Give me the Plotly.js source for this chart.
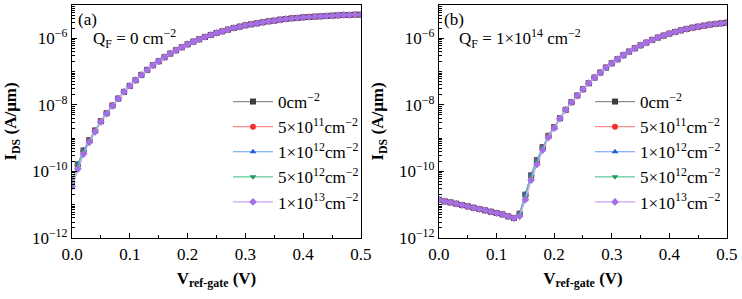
<!DOCTYPE html>
<html>
<head>
<meta charset="utf-8">
<script src="https://cdn.plot.ly/plotly-3.0.1.min.js"></script>
<style>
  html, body { margin: 0; padding: 0; background: #fff; overflow: hidden; }
  #chart { width: 742px; height: 299px; }
</style>
</head>
<body>
<div id="chart"></div>
<script>
// Gate sweep (V)
const vGate = [0.00,0.01,0.02,0.03,0.04,0.05,0.06,0.07,0.08,0.09,0.10,0.11,0.12,0.13,0.14,0.15,0.16,0.17,0.18,0.19,0.20,
  0.21,0.22,0.23,0.24,0.25,0.26,0.27,0.28,0.29,0.30,0.31,0.32,0.33,0.34,0.35,0.36,0.37,0.38,0.39,0.40,
  0.41,0.42,0.43,0.44,0.45,0.46,0.47,0.48,0.49,0.50];

// Legend labels (interface charge density)
const seriesNames = ['0cm<sup>−2</sup>', '5×10<sup>11</sup>cm<sup>−2</sup>', '1×10<sup>12</sup>cm<sup>−2</sup>',
  '5×10<sup>12</sup>cm<sup>−2</sup>', '1×10<sup>13</sup>cm<sup>−2</sup>'];

// (a) Q_F = 0 : log10 of I_DS (A/um)
const logIdsA_0 = [-10.29,-9.79,-9.37,-9.06,-8.77,-8.49,-8.25,-8.02,-7.81,-7.61,-7.43,-7.26,-7.10,-6.95,-6.81,-6.69,-6.57,-6.46,-6.36,-6.27,-6.18,
  -6.10,-6.03,-5.96,-5.90,-5.84,-5.79,-5.74,-5.69,-5.65,-5.61,-5.58,-5.55,-5.52,-5.49,-5.47,-5.44,-5.42,-5.40,-5.39,-5.37,
  -5.36,-5.35,-5.34,-5.33,-5.32,-5.31,-5.30,-5.30,-5.29,-5.29];
const logIdsA_5e11 = [-10.30,-9.80,-9.37,-9.06,-8.77,-8.49,-8.25,-8.02,-7.81,-7.61,-7.43,-7.26,-7.10,-6.95,-6.81,-6.69,-6.57,-6.46,-6.36,-6.27,-6.18,
  -6.10,-6.03,-5.96,-5.90,-5.84,-5.79,-5.74,-5.69,-5.65,-5.61,-5.58,-5.55,-5.52,-5.49,-5.47,-5.44,-5.42,-5.40,-5.39,-5.37,
  -5.36,-5.35,-5.34,-5.33,-5.32,-5.31,-5.30,-5.30,-5.29,-5.29];
const logIdsA_1e12 = [-10.28,-9.78,-9.36,-9.06,-8.77,-8.49,-8.25,-8.02,-7.81,-7.61,-7.43,-7.26,-7.10,-6.95,-6.81,-6.69,-6.57,-6.46,-6.36,-6.27,-6.18,
  -6.10,-6.03,-5.96,-5.90,-5.84,-5.79,-5.74,-5.69,-5.65,-5.61,-5.58,-5.55,-5.52,-5.49,-5.47,-5.44,-5.42,-5.40,-5.39,-5.37,
  -5.36,-5.35,-5.34,-5.33,-5.32,-5.31,-5.30,-5.30,-5.29,-5.29];
const logIdsA_5e12 = [-10.33,-9.83,-9.40,-9.08,-8.78,-8.49,-8.25,-8.02,-7.81,-7.61,-7.43,-7.26,-7.10,-6.95,-6.81,-6.69,-6.57,-6.46,-6.36,-6.27,-6.18,
  -6.10,-6.03,-5.96,-5.90,-5.84,-5.79,-5.74,-5.69,-5.65,-5.61,-5.58,-5.55,-5.52,-5.49,-5.47,-5.44,-5.42,-5.40,-5.39,-5.37,
  -5.36,-5.35,-5.34,-5.33,-5.32,-5.31,-5.30,-5.30,-5.29,-5.29];
const logIdsA_1e13 = [-10.45,-9.93,-9.48,-9.13,-8.81,-8.51,-8.26,-8.03,-7.81,-7.61,-7.43,-7.26,-7.10,-6.95,-6.81,-6.69,-6.57,-6.46,-6.36,-6.27,-6.18,
  -6.10,-6.03,-5.96,-5.90,-5.84,-5.79,-5.74,-5.69,-5.65,-5.61,-5.58,-5.55,-5.52,-5.49,-5.47,-5.44,-5.42,-5.40,-5.39,-5.37,
  -5.36,-5.35,-5.34,-5.33,-5.32,-5.31,-5.30,-5.30,-5.29,-5.29];

// (b) Q_F = 1e14 : log10 of I_DS (A/um)
const logIdsB_0 = [-10.85,-10.90,-10.93,-10.97,-11.01,-11.05,-11.09,-11.13,-11.17,-11.21,-11.25,-11.29,-11.35,-11.40,-11.27,-10.70,-10.12,-9.66,-9.27,-8.93,-8.67,
  -8.40,-8.15,-7.92,-7.72,-7.53,-7.35,-7.18,-7.03,-6.88,-6.75,-6.63,-6.51,-6.40,-6.30,-6.21,-6.13,-6.05,-5.98,-5.92,-5.86,
  -5.81,-5.76,-5.72,-5.68,-5.65,-5.62,-5.59,-5.57,-5.55,-5.53];
const logIdsB_5e11 = [-10.85,-10.90,-10.93,-10.97,-11.01,-11.05,-11.09,-11.13,-11.17,-11.21,-11.25,-11.29,-11.35,-11.40,-11.27,-10.70,-10.12,-9.66,-9.27,-8.93,-8.67,
  -8.40,-8.15,-7.92,-7.72,-7.53,-7.35,-7.18,-7.03,-6.88,-6.75,-6.63,-6.51,-6.40,-6.30,-6.21,-6.13,-6.05,-5.98,-5.92,-5.86,
  -5.81,-5.76,-5.72,-5.68,-5.65,-5.62,-5.59,-5.57,-5.55,-5.53];
const logIdsB_1e12 = [-10.85,-10.90,-10.93,-10.97,-11.01,-11.05,-11.09,-11.13,-11.17,-11.21,-11.25,-11.29,-11.35,-11.40,-11.26,-10.68,-10.10,-9.65,-9.27,-8.93,-8.67,
  -8.40,-8.15,-7.92,-7.72,-7.53,-7.35,-7.18,-7.03,-6.88,-6.75,-6.63,-6.51,-6.40,-6.30,-6.21,-6.13,-6.05,-5.98,-5.92,-5.86,
  -5.81,-5.76,-5.72,-5.68,-5.65,-5.62,-5.59,-5.57,-5.55,-5.53];
const logIdsB_5e12 = [-10.85,-10.90,-10.93,-10.97,-11.01,-11.05,-11.09,-11.13,-11.17,-11.21,-11.25,-11.29,-11.35,-11.40,-11.29,-10.75,-10.16,-9.69,-9.29,-8.94,-8.67,
  -8.40,-8.15,-7.92,-7.72,-7.53,-7.35,-7.18,-7.03,-6.88,-6.75,-6.63,-6.51,-6.40,-6.30,-6.21,-6.13,-6.05,-5.98,-5.92,-5.86,
  -5.81,-5.76,-5.72,-5.68,-5.65,-5.62,-5.59,-5.57,-5.55,-5.53];
const logIdsB_1e13 = [-10.85,-10.90,-10.93,-10.97,-11.01,-11.05,-11.09,-11.13,-11.17,-11.21,-11.25,-11.29,-11.35,-11.40,-11.35,-10.85,-10.26,-9.79,-9.36,-8.98,-8.70,
  -8.41,-8.15,-7.92,-7.72,-7.53,-7.35,-7.18,-7.03,-6.88,-6.75,-6.63,-6.51,-6.40,-6.30,-6.21,-6.13,-6.05,-5.98,-5.92,-5.86,
  -5.81,-5.76,-5.72,-5.68,-5.65,-5.62,-5.59,-5.57,-5.55,-5.53];

// y tick labels
const yTickVals = [1e-12, 1e-10, 1e-8, 1e-6];
const yTickText = ['10<sup>−12</sup>', '10<sup>−10</sup>', '10<sup>−8</sup>', '10<sup>−6</sup>'];

const FONT = 'Liberation Serif, Times New Roman, serif';
const styles = [
  { line: '#8c8c8c', marker: '#3d3d3d', symbol: 'square' },
  { line: '#ff8a8a', marker: '#f03030', symbol: 'circle' },
  { line: '#5f9cf2', marker: '#1f5fd6', symbol: 'triangle-up' },
  { line: '#63c99b', marker: '#1f9a5c', symbol: 'triangle-down' },
  { line: '#c7a4f5', marker: '#a46fe6', symbol: 'diamond' }
];

const toAmps = arr => arr.map(e => Math.pow(10, e));
const panelA = [logIdsA_0, logIdsA_5e11, logIdsA_1e12, logIdsA_5e12, logIdsA_1e13];
const panelB = [logIdsB_0, logIdsB_5e11, logIdsB_1e12, logIdsB_5e12, logIdsB_1e13];

function makeTraces(sets, xa, ya, legendId) {
  return sets.map((logs, i) => ({
    type: 'scatter', mode: 'lines+markers',
    x: vGate, y: toAmps(logs),
    xaxis: xa, yaxis: ya, legend: legendId,
    name: seriesNames[i],
    line: { color: styles[i].line, width: 1.2 },
    marker: { color: styles[i].marker, symbol: styles[i].symbol, size: 6 },
    hoverinfo: 'skip'
  }));
}

const traces = [...makeTraces(panelA, 'x', 'y', 'legend'), ...makeTraces(panelB, 'x2', 'y2', 'legend2')];

// minor log ticks at 1..9 x 10^n
const yMinor = [];
for (let n = -12; n < -5; n++) for (let k = 1; k <= 9; k++) yMinor.push(k * Math.pow(10, n));

const axisFont = { family: FONT, size: 17, color: '#000' };
const titleFont = { family: FONT, size: 17, color: '#000' };

function xAxis(domain, anchor) {
  return {
    domain, anchor, range: [0, 0.5], dtick: 0.1, tick0: 0, tickformat: '.1f',
    ticks: 'inside', ticklen: 5, tickwidth: 1.2, tickcolor: '#000',
    linecolor: '#000', linewidth: 1.2, mirror: true, showgrid: false, zeroline: false,
    tickfont: axisFont, automargin: false, fixedrange: true,
    minor: { dtick: 0.05, tick0: 0, ticks: 'inside', ticklen: 3, tickwidth: 1, tickcolor: '#000', showgrid: false },
    title: { text: '<b>V<sub>ref-gate</sub> (V)</b>', font: titleFont, standoff: 9 }
  };
}
function yAxis(anchor) {
  return {
    domain: [0.204, 0.9833], anchor, type: 'log', range: [-12, -5],
    tickmode: 'array', tickvals: yTickVals, ticktext: yTickText,
    ticks: 'inside', ticklen: 5, tickwidth: 1.2, tickcolor: '#000',
    linecolor: '#000', linewidth: 1.2, mirror: true, showgrid: false, zeroline: false,
    tickfont: axisFont, automargin: false, fixedrange: true,
    minor: { tickmode: 'array', tickvals: yMinor, ticks: 'inside', ticklen: 3, tickwidth: 1, tickcolor: '#000', showgrid: false },
    title: { text: '<b>I<sub>DS</sub> (A/μm)</b>', font: titleFont, standoff: 10 }
  };
}

const legendStyle = (x) => ({
  x, xanchor: 'left', y: 1 - 84 / 299, yanchor: 'top',
  bgcolor: 'rgba(0,0,0,0)', borderwidth: 0,
  font: { family: FONT, size: 17, color: '#000' },
  itemwidth: 40, tracegroupgap: 0
});

const annFont = { family: FONT, size: 17, color: '#000' };
const layout = {
  width: 742, height: 299,
  margin: { l: 0, r: 0, t: 0, b: 0 },
  paper_bgcolor: '#fff', plot_bgcolor: '#fff',
  showlegend: true,
  xaxis: xAxis([0.09704, 0.48652], 'y'),
  yaxis: yAxis('x'),
  xaxis2: xAxis([0.59164, 0.97978], 'y2'),
  yaxis2: yAxis('x2'),
  legend: legendStyle(228 / 742),
  legend2: legendStyle(590 / 742),
  annotations: [
    { xref: 'paper', yref: 'paper', x: 76 / 742, y: 1 - 20 / 299, xanchor: 'left', yanchor: 'middle', showarrow: false, text: '(a)', font: annFont },
    { xref: 'paper', yref: 'paper', x: 91 / 742, y: 1 - 38 / 299, xanchor: 'left', yanchor: 'middle', showarrow: false, text: 'Q<sub>F</sub> = 0 cm<sup>−2</sup>', font: annFont },
    { xref: 'paper', yref: 'paper', x: 442 / 742, y: 1 - 20 / 299, xanchor: 'left', yanchor: 'middle', showarrow: false, text: '(b)', font: annFont },
    { xref: 'paper', yref: 'paper', x: 457 / 742, y: 1 - 38 / 299, xanchor: 'left', yanchor: 'middle', showarrow: false, text: 'Q<sub>F</sub> = 1×10<sup>14</sup> cm<sup>−2</sup>', font: annFont }
  ]
};

Plotly.newPlot('chart', traces, layout, { displayModeBar: false, responsive: false }).then(gd => {
  // mirror each text's styled font size into an explicit attribute
  gd.querySelectorAll('text, tspan').forEach(el => {
    const fs = el.style.fontSize || window.getComputedStyle(el).fontSize;
    if (fs) el.setAttribute('font-size', parseFloat(fs));
  });
});
</script>
</body>
</html>
